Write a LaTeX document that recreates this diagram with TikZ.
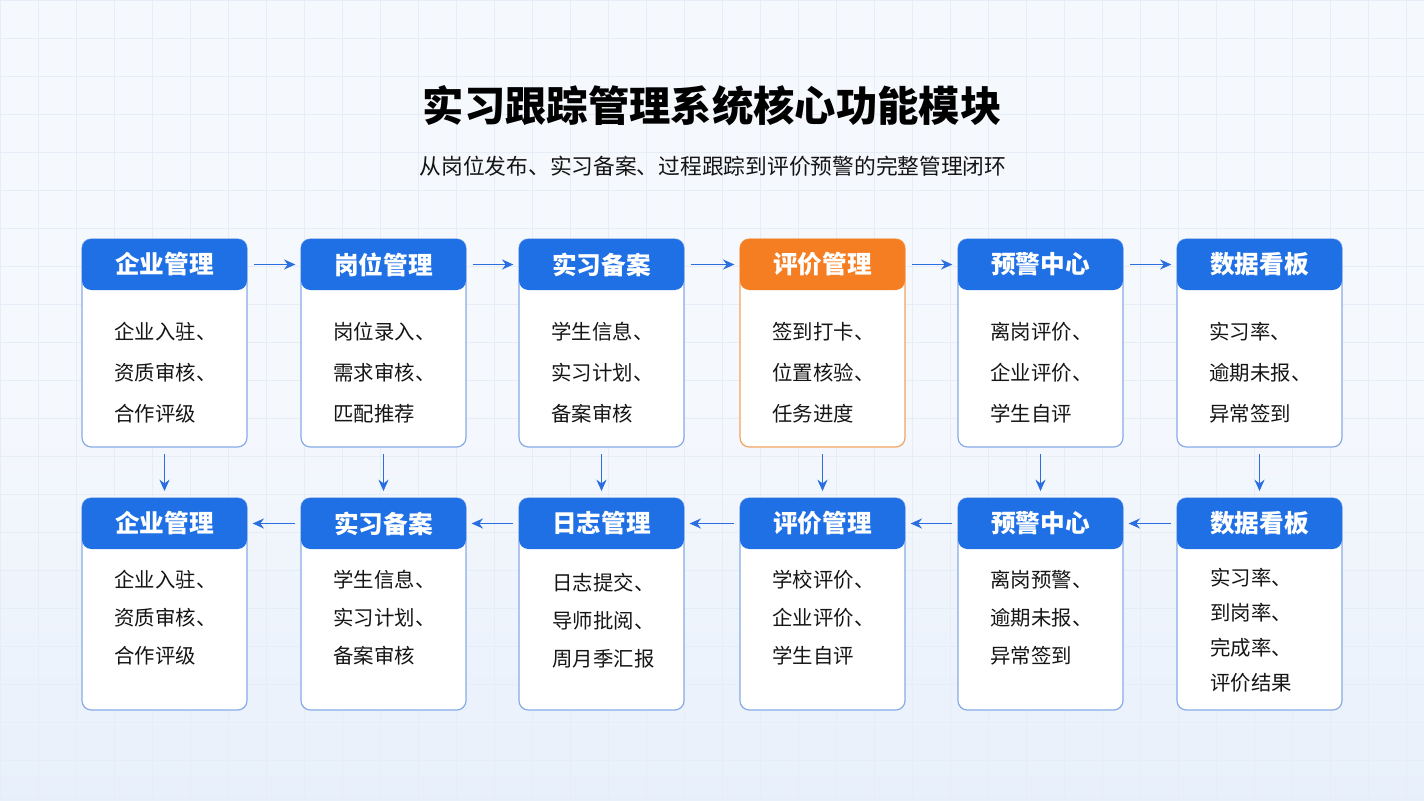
\documentclass[tikz,border=0pt]{standalone}
\usepackage{fontspec}
\setmainfont{Noto Sans CJK SC}
\usetikzlibrary{arrows.meta}
\definecolor{bgc}{HTML}{F5F8FD}
\definecolor{bgb}{HTML}{E8F0FB}
\definecolor{gridc}{HTML}{E6EDF7}
\definecolor{hblue}{HTML}{1F6FE5}
\definecolor{horange}{HTML}{F57D22}
\definecolor{bblue}{HTML}{86ABE6}
\definecolor{borange}{HTML}{F2A460}
\definecolor{arrc}{HTML}{2A6EE0}
\definecolor{txt}{HTML}{151515}
\tikzset{
  cardbox/.style={draw=bblue, line width=0.9pt, fill=white, rounded corners=7pt, minimum width=123.75pt, inner sep=0pt},
  cardboxo/.style={cardbox, draw=borange},
  headbox/.style={fill=hblue, rounded corners=7pt, minimum width=123.75pt, minimum height=38.25pt, inner sep=0pt, text=white, font=\fontsize{18.5}{22}\selectfont\bfseries},
  headboxo/.style={headbox, fill=horange},
  bodytxt/.style={align=left, text=txt, inner sep=0pt},
  flow/.style={draw=arrc, line width=1.4pt, -{Stealth[length=8.5pt,width=7.5pt]}},
}
\begin{document}
\begin{tikzpicture}[x=0.75pt,y=-0.75pt]
\useasboundingbox (0,0) rectangle (1424,800);
\shade[bottom color=bgb, top color=bgc, middle color=bgc] (0,0) rectangle (1424,800);
\begin{scope}
\clip (0,0) rectangle (1424,800);
\foreach \gx in {0,38,...,1424} \draw[gridc, line width=0.45pt] (\gx,0) -- (\gx,800);
\foreach \gy in {0,38,...,800} \draw[gridc, line width=0.45pt] (0,\gy) -- (1424,\gy);
\end{scope}
\node[font=\fontsize{31}{36}\selectfont\bfseries, text=black] (title) at (712,106) {实习跟踪管理系统核心功能模块};
\node[font=\fontsize{16.3}{20}\selectfont, text=txt] (sub) at (713,166) {从岗位发布、实习备案、过程跟踪到评价预警的完整管理闭环};
% top row cards
\foreach \n/\cx/\st/\hd/\bd in {
  1/164.5//企业管理/{企业入驻、\\资质审核、\\合作评级},
  2/383.5//岗位管理/{岗位录入、\\需求审核、\\匹配推荐},
  3/601.5//实习备案/{学生信息、\\实习计划、\\备案审核},
  4/822.5/o/评价管理/{签到打卡、\\位置核验、\\任务进度},
  5/1040.5//预警中心/{离岗评价、\\企业评价、\\学生自评},
  6/1259.5//数据看板/{实习率、\\逾期未报、\\异常签到}} {
  \node[cardbox\st, minimum height=156pt] (t\n) at (\cx,343) {};
  \node[headbox\st] (th\n) at (\cx,264.5) {\hd};
  \node[bodytxt, font=\fontsize{15.3}{30.75}\selectfont] (tb\n) at (\cx+1,373) {\bd};
}
% bottom row cards
\foreach \n/\cx/\tx/\hd/\bd/\ls/\cy in {
  1/164.5/165.5/企业管理/{企业入驻、\\资质审核、\\合作评级}/28.5/618,
  2/383.5/384.5/实习备案/{学生信息、\\实习计划、\\备案审核}/28.5/618,
  3/601.5/603.5/日志管理/{日志提交、\\导师批阅、\\周月季汇报}/28.5/621,
  4/822.5/823.5/评价管理/{学校评价、\\企业评价、\\学生自评}/28.5/618,
  5/1040.5/1041.5/预警中心/{离岗预警、\\逾期未报、\\异常签到}/28.5/618,
  6/1259.5/1251/数据看板/{实习率、\\到岗率、\\完成率、\\评价结果}/26.2/630} {
  \node[cardbox, minimum height=159pt] (b\n) at (\cx,604) {};
  \node[headbox] (bh\n) at (\cx,523.5) {\hd};
  \node[bodytxt, font=\fontsize{15.3}{\ls}\selectfont] (bb\n) at (\tx,\cy) {\bd};
}
% horizontal arrows top row
\foreach \a/\b in {1/2,2/3,3/4,4/5,5/6}
  \draw[flow, shorten <=5pt, shorten >=4pt] (th\a.east) -- (th\b.west);
% horizontal arrows bottom row (leftwards)
\foreach \a/\b in {2/1,3/2,4/3,5/4,6/5}
  \draw[flow, shorten <=4pt, shorten >=4pt] (bh\a.west) -- (bh\b.east);
% vertical arrows
\foreach \a in {1,...,6}
  \draw[flow, shorten <=4.5pt, shorten >=5pt] (t\a.south) -- (bh\a.north);
\end{tikzpicture}
\end{document}
